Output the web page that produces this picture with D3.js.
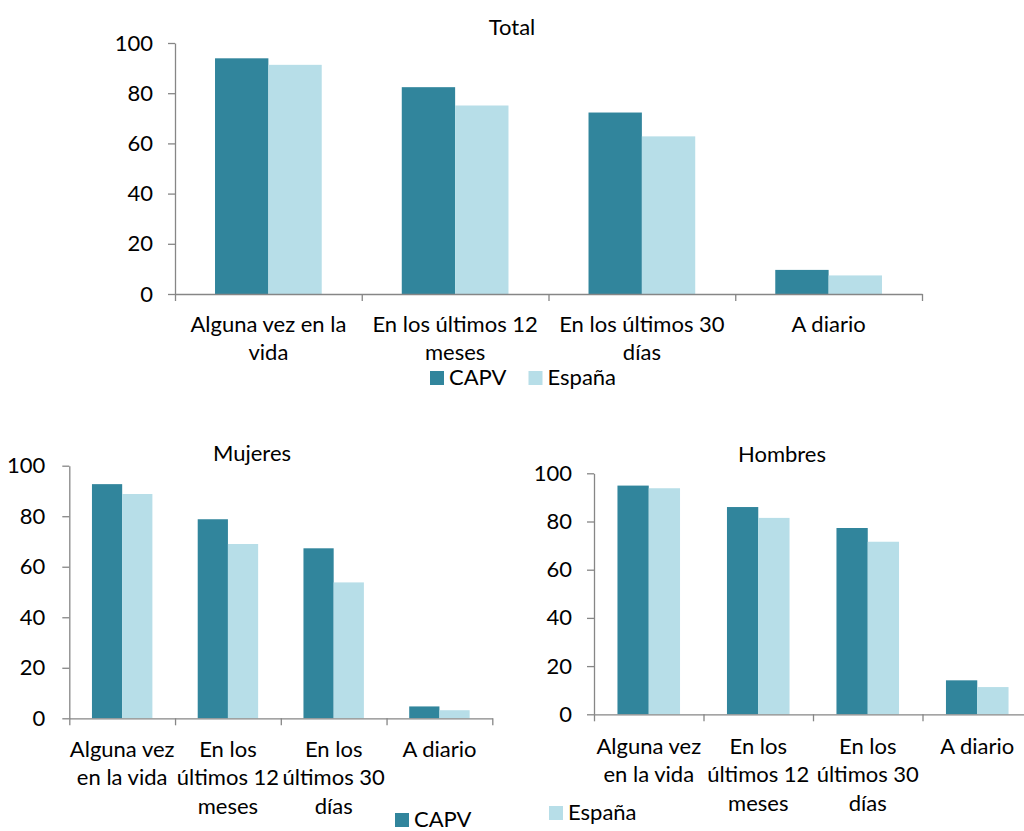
<!DOCTYPE html>
<html><head><meta charset="utf-8">
<script src="https://cdn.jsdelivr.net/npm/d3@7"></script>
<style>
html,body{margin:0;padding:0;background:#fff;}
svg{display:block;font-family:Lato, "Open Sans", sans-serif;}
</style></head>
<body>
<svg id="chart" width="1024" height="831"></svg>
<script>
// ---- data ----
const categories = ["Alguna vez en la vida", "En los últimos 12 meses", "En los últimos 30 días", "A diario"];
const seriesNames = ["CAPV", "España"];
const totalCapv = [93.9, 82.4, 72.3, 9.6];
const totalEspana = [91.3, 75.1, 62.8, 7.4];
const mujeresCapv = [92.7, 78.8, 67.3, 4.7];
const mujeresEspana = [88.8, 69.0, 53.8, 3.2];
const hombresCapv = [94.9, 86.0, 77.3, 14.1];
const hombresEspana = [93.8, 81.5, 71.6, 11.3];
const yTicks = [0, 20, 40, 60, 80, 100];
const topLabelLines = [["Alguna vez en la", "vida"], ["En los últimos 12", "meses"], ["En los últimos 30", "días"], ["A diario"]];
const bottomLabelLines = [["Alguna vez", "en la vida"], ["En los", "últimos 12", "meses"], ["En los", "últimos 30", "días"], ["A diario"]];

const colors = {"CAPV": "#31859C", "España": "#B7DEE8"};
const axisColor = "#868686";
const FS = 22;

const svg = d3.select("#chart");

function drawChart(cfg) {
  const g = svg.append("g");
  const x0 = d3.scaleBand().domain(categories).range([cfg.x0, cfg.x1]).padding(0);
  const step = x0.bandwidth();
  const x1 = d3.scaleBand().domain(seriesNames)
    .range([step * 0.75 / 3.5, step * 2.75 / 3.5]).padding(0);
  const y = d3.scaleLinear().domain([0, 100]).range([cfg.yBottom, cfg.yTop]);

  const rows = categories.map((c, i) => ({cat: c, vals: [
    {s: "CAPV", v: cfg.capv[i]}, {s: "España", v: cfg.espana[i]}]}));

  const grp = g.selectAll("g.cat").data(rows).join("g")
    .attr("transform", d => `translate(${x0(d.cat)},0)`);
  grp.selectAll("rect").data(d => d.vals).join("rect")
    .attr("x", d => x1(d.s)).attr("width", x1.bandwidth())
    .attr("y", d => y(d.v)).attr("height", d => y(0) - y(d.v))
    .attr("fill", d => colors[d.s]);

  // y axis
  const ya = g.append("g").attr("transform", `translate(${cfg.x0},0)`)
    .call(d3.axisLeft(y).tickValues(yTicks).tickSize(7).tickSizeOuter(0).tickPadding(cfg.tickPad));
  ya.selectAll("path,line").attr("stroke", axisColor).attr("stroke-width", 1.3);
  ya.selectAll("text").attr("font-size", FS).attr("fill", "#000").attr("font-family", "Lato");

  // x axis with boundary ticks
  const xl = d3.scaleLinear().domain([0, categories.length]).range([cfg.x0, cfg.x1]);
  const xa = g.append("g").attr("transform", `translate(0,${cfg.yBottom})`)
    .call(d3.axisBottom(xl).tickValues(d3.range(categories.length + 1)).tickFormat("").tickSize(7).tickSizeOuter(0));
  xa.selectAll("path,line").attr("stroke", axisColor).attr("stroke-width", 1.3);

  // category labels
  const lab = g.selectAll("text.cl").data(categories).join("text").attr("class", "cl")
    .attr("text-anchor", "middle").attr("font-size", FS).attr("fill", "#000")
    .attr("transform", d => `translate(${x0(d) + step / 2},${cfg.labelY})`);
  lab.selectAll("tspan").data((d, i) => cfg.lines[i]).join("tspan")
    .attr("x", 0).attr("y", (d, i) => i * cfg.lineH).text(d => d);

  // title
  g.append("text").attr("x", cfg.titleX).attr("y", cfg.titleY)
    .attr("text-anchor", "middle").attr("font-size", FS).attr("fill", "#000").text(cfg.title);
}

function legendItem(name, x, y) {
  svg.append("rect").attr("x", x).attr("y", y - 14).attr("width", 14).attr("height", 14)
    .attr("fill", colors[name]);
  svg.append("text").attr("x", x + 19).attr("y", y).attr("font-size", FS).attr("fill", "#000").text(name);
}

drawChart({title: "Total", titleX: 512, titleY: 35, x0: 175, x1: 922, yBottom: 294, yTop: 43,
  capv: totalCapv, espana: totalEspana, lines: topLabelLines, labelY: 332, lineH: 28, tickPad: 15});
drawChart({title: "Mujeres", titleX: 252, titleY: 461, x0: 69.3, x1: 492.3, yBottom: 718.3, yTop: 465.7,
  capv: mujeresCapv, espana: mujeresEspana, lines: bottomLabelLines, labelY: 757, lineH: 28.3, tickPad: 17});
drawChart({title: "Hombres", titleX: 782, titleY: 462, x0: 594, x1: 1032, yBottom: 714.3, yTop: 473.3,
  capv: hombresCapv, espana: hombresEspana, lines: bottomLabelLines, labelY: 754, lineH: 28.3, tickPad: 15});

legendItem("CAPV", 430, 385);
legendItem("España", 528.5, 385);
legendItem("CAPV", 395, 827);
legendItem("España", 549, 820);
</script>
</body></html>
